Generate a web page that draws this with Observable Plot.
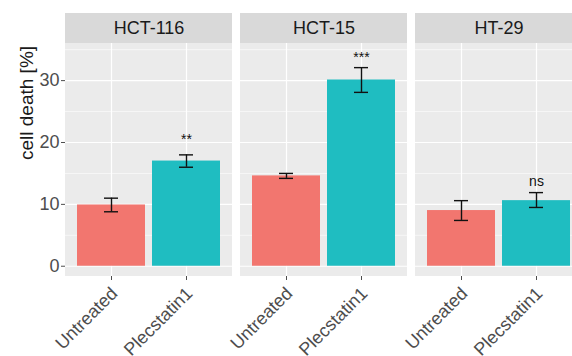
<!DOCTYPE html>
<html>
<head>
<meta charset="utf-8">
<script src="https://cdn.jsdelivr.net/npm/d3@7"></script>
<script src="https://cdn.jsdelivr.net/npm/@observablehq/plot@0.6"></script>
<style>
  html, body { margin: 0; padding: 0; background: #fff; overflow: hidden; }
  #wrap { width: 572px; height: 356px; overflow: hidden; }
</style>
</head>
<body>
<div id="wrap"></div>
<script>
// ---- data ----
const cellLines = ["HCT-116", "HCT-15", "HT-29"];
const treatments = ["Untreated", "Plecstatin1"];
const meanUntreated = [9.9, 14.6, 9.0];
const meanPlecstatin = [17.0, 30.1, 10.6];
const lowUntreated = [8.8, 14.2, 7.4];
const highUntreated = [11.0, 15.0, 10.6];
const lowPlecstatin = [16.0, 28.1, 9.5];
const highPlecstatin = [18.0, 32.1, 11.9];
const sigLabels = ["**", "***", "ns"];
const sigY = [19.7, 33.0, 12.9];
const yTicks = [0, 10, 20, 30];
const yMinorTicks = [5, 15, 25, 35];
const yLimits = [-1.66, 36];
const yLabel = "cell death [%]";

// ---- build table ----
const rows = [];
cellLines.forEach((line, i) => {
  rows.push({line, treatment: treatments[0], value: meanUntreated[i], lo: lowUntreated[i], hi: highUntreated[i]});
  rows.push({line, treatment: treatments[1], value: meanPlecstatin[i], lo: lowPlecstatin[i], hi: highPlecstatin[i]});
});
const sig = cellLines.map((line, i) => ({line, treatment: treatments[1], label: sigLabels[i], y: sigY[i]}));
const strips = cellLines.map(line => ({line}));

// layout
const W = 583, H = 356, mL = 64, mT = 13, mB = 80;
const stripPx = 30;
const panelPx = H - mB - mT - stripPx;
const stripUnits = stripPx * (yLimits[1] - yLimits[0]) / panelPx;
const yTop = yLimits[1] + stripUnits;
const font = "Liberation Sans, Arial, Helvetica, sans-serif";

const chart = Plot.plot({
  width: W,
  height: H,
  marginLeft: mL,
  marginRight: 0,
  marginTop: mT,
  marginBottom: mB,
  style: {fontFamily: font, background: "#fff", overflow: "visible", maxWidth: "none"},
  fx: {domain: cellLines, paddingInner: 8 / 176, paddingOuter: 0, axis: null, label: null},
  x: {domain: treatments, paddingInner: 0.1, paddingOuter: 0.15, label: null},
  y: {domain: [yLimits[0], yTop], label: null},
  color: {domain: treatments, range: ["#F2766F", "#1FBDC1"]},
  marks: [
    // panel background
    Plot.rect(strips, {fx: "line", y1: yLimits[0], y2: yLimits[1], fill: "#EBEBEB"}),
    // strip background
    Plot.rect(strips, {fx: "line", y1: yLimits[1], y2: yTop, fill: "#D9D9D9"}),
    // grid
    Plot.ruleY(yMinorTicks, {stroke: "#fff", strokeWidth: 0.6}),
    Plot.ruleY(yTicks, {stroke: "#fff", strokeWidth: 1.2}),
    Plot.ruleX(treatments, {x: d => d, y1: yLimits[0], y2: yLimits[1], stroke: "#fff", strokeWidth: 1.2}),
    // bars
    Plot.barY(rows, {fx: "line", x: "treatment", y: "value", fill: "treatment"}),
    // error bars
    Plot.ruleX(rows, {fx: "line", x: "treatment", y1: "lo", y2: "hi", stroke: "#111", strokeWidth: 1.4}),
    Plot.tickY(rows, {fx: "line", x: "treatment", y: "lo", stroke: "#111", strokeWidth: 1.4, insetLeft: 27, insetRight: 27}),
    Plot.tickY(rows, {fx: "line", x: "treatment", y: "hi", stroke: "#111", strokeWidth: 1.4, insetLeft: 27, insetRight: 27}),
    // significance
    Plot.text(sig, {fx: "line", x: "treatment", y: "y", text: "label", lineAnchor: "bottom", fontSize: 14, fill: "#111"}),
    // strip labels
    Plot.text(strips, {fx: "line", y: yLimits[1] + stripUnits / 2, text: "line", frameAnchor: "middle", lineAnchor: "middle", fontSize: 18, fill: "#1A1A1A"}),
    // axes
    Plot.axisY({ticks: yTicks, tickSize: 4, tickPadding: 2, fontSize: 18, color: "#4D4D4D", label: null}),
    Plot.axisX({tickSize: 4, tickFormat: () => "", color: "#4D4D4D", label: null}),
    Plot.text(treatments, {x: d => d, text: d => d, frameAnchor: "bottom", rotate: -45, textAnchor: "end", lineAnchor: "top", dx: -2, dy: 9, fontSize: 18, fill: "#4D4D4D"}),
    // y title
    Plot.text([{line: cellLines[0], t: yLabel}], {fx: "line", y: (yLimits[0] + yLimits[1]) / 2, text: "t", frameAnchor: "left", rotate: -90, dx: -39, fontSize: 19, fill: "#1A1A1A"})
  ]
});
document.getElementById("wrap").appendChild(chart);
</script>
</body>
</html>
